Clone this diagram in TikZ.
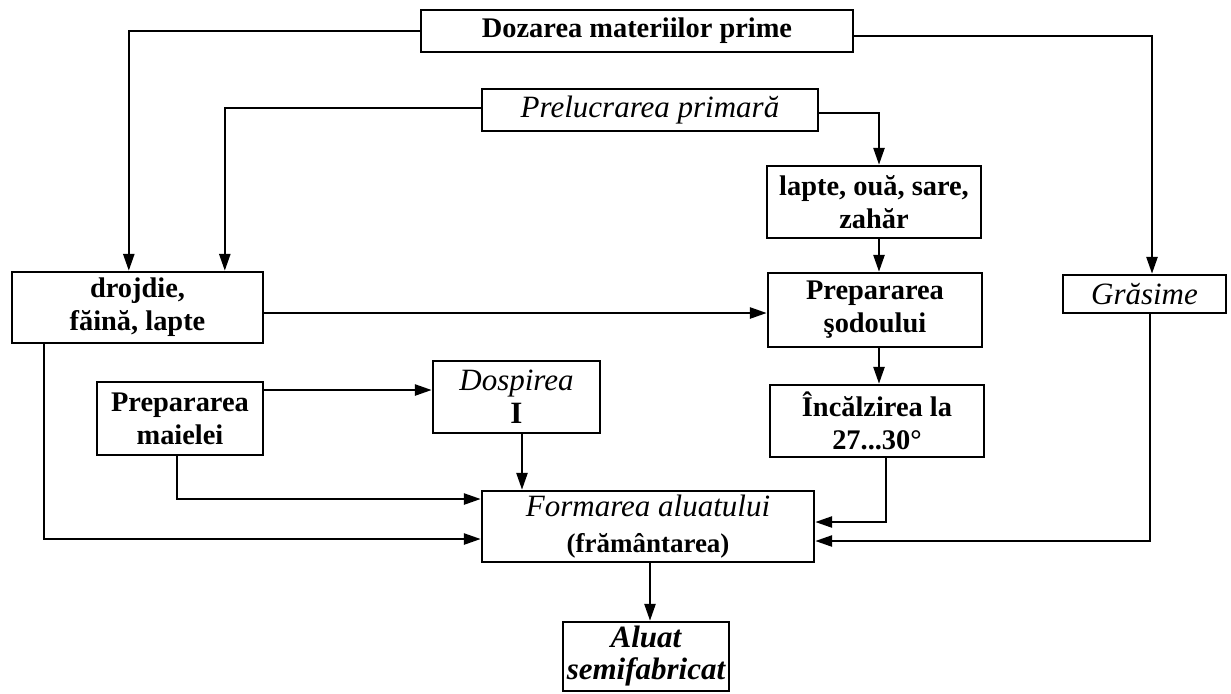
\documentclass[tikz,border=0pt]{standalone}
\usepackage{fontspec}
\setmainfont{Liberation Serif}
\usepackage{tikz}
\usetikzlibrary{arrows.meta,calc}
\tikzstyle{process} = [rectangle, draw=black, fill=white, line width=1.2pt, inner sep=0pt, align=center, font=\fontsize{14.2pt}{16.5pt}\selectfont\bfseries]
\tikzstyle{stage}   = [rectangle, draw=black, fill=white, line width=1.2pt, inner sep=0pt, align=center, font=\fontsize{15.5pt}{16.5pt}\selectfont\itshape]
\tikzstyle{arrow}   = [line width=1.3pt, -{Triangle[length=8.5pt, width=5.5pt]}]

\begin{document}
\begin{tikzpicture}[x=0.5pt, y=-0.5pt] % 1 unitate = 1 pixel din imagine
            \useasboundingbox (0,0) rectangle (1231,693);
            % 1. Dozarea materiilor prime (sus)
            \node (doz) [process, minimum width=216pt, minimum height=21pt] at (637,31) {Dozarea materiilor prime};
            % 2. Prelucrarea primara
            \node (prel) [stage, minimum width=168pt, minimum height=21pt] at (650,110) {Prelucrarea primară};
            % 3. lapte, oua, sare, zahar
            \node (lapte) [process, minimum width=107pt, minimum height=36pt] at (874,202) {lapte, ouă, sare,\\ zahăr};
            % 4. drojdie, faina, lapte (stanga)
            \node (droj) [process, minimum width=125.5pt, minimum height=35.5pt] at (137.5,307.5) {drojdie,\\ făină, lapte};
            % 5. Prepararea sodoului
            \node (sod) [process, minimum width=107pt, minimum height=37pt] at (875,310) {Prepararea\\ şodoului};
            % 6. Grasime (dreapta)
            \node (gras) [stage, minimum width=81.5pt, minimum height=19pt] at (1144.5,294) {Grăsime};
            % 7. Prepararea maielei
            \node (maia) [process, minimum width=83pt, minimum height=36.5pt] at (180,418.5) {Prepararea\\ maielei};
            % 8. Dospirea I
            \node (dosp) [stage, minimum width=83.5pt, minimum height=36pt] at (516.5,397) {Dospirea\\ {\upshape\bfseries I}};
            % 9. Incalzirea la 27...30
            \node (incal) [process, minimum width=107pt, minimum height=36pt] at (877,421) {Încălzirea la\\ 27...30°};
            % 10. Formarea aluatului
            \node (form) [stage, minimum width=166pt, minimum height=35.5pt, font=\fontsize{15.5pt}{18pt}\selectfont\itshape] at (648,526.5) {Formarea aluatului\\ {\fontsize{13.5pt}{18pt}\selectfont\upshape\bfseries (frământarea)}};
            % 11. Aluat semifabricat (jos)
            \node (aluat) [stage, minimum width=83pt, minimum height=34.5pt, font=\fontsize{15.5pt}{16pt}\selectfont\bfseries\itshape] at (646,656.5) {Aluat\\ semifabricat};

            % sagetile
            \draw [arrow] (doz.west) -| ([xshift=59pt]droj.north west);                        % dozare -> drojdie
            \draw [arrow] ([yshift=-2.5pt]doz.east) -| ([xshift=3.75pt]gras.north);              % dozare -> grasime
            \draw [arrow] ([yshift=1pt]prel.west) -| ([xshift=107pt]droj.north west);            % prelucrare -> drojdie
            \draw [arrow] ([yshift=-1.5pt]prel.east) -| ([xshift=2.5pt]lapte.north);             % prelucrare -> lapte
            \draw [arrow] ([xshift=2.5pt]lapte.south) -- ([xshift=2.5pt]lapte.south |- sod.north); % lapte -> sodou
            \draw [arrow] ([yshift=-2.75pt]droj.east) -- ([yshift=-2.75pt]droj.east -| sod.west);  % drojdie -> sodou
            \draw [arrow] ([xshift=2pt]sod.south) -- ([xshift=2pt]sod.south |- incal.north);       % sodou -> incalzire
            \draw [arrow] ([yshift=14.25pt]maia.east) -- ([yshift=14.25pt]maia.east -| dosp.west); % maia -> dospire
            \draw [arrow] ([xshift=2.75pt]dosp.south) -- ([xshift=2.75pt]dosp.south |- form.north); % dospire -> formare

            % intrarile in Formarea aluatului
            \draw [arrow] ([xshift=-1.5pt]maia.south) |- ([yshift=13.75pt]form.west);            % maia -> formare
            \draw [arrow] ([xshift=16.5pt]droj.south west) |- ([yshift=-6.25pt]form.west);       % drojdie -> formare
            \draw [arrow] ([xshift=4.5pt]incal.south) |- ([yshift=2.25pt]form.east);             % incalzire -> formare
            \draw [arrow] ([xshift=2.75pt]gras.south) |- ([yshift=-7.25pt]form.east);            % grasime -> formare

            % rezultat
            \draw [arrow] ([xshift=1pt]form.south) -- ([xshift=1pt]form.south |- aluat.north);   % formare -> aluat
        \end{tikzpicture}
\end{document}
